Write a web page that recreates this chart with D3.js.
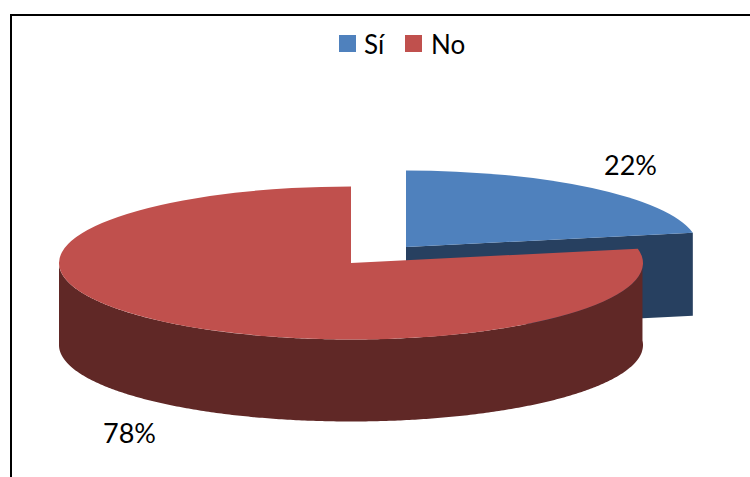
<!DOCTYPE html>
<html><head><meta charset="utf-8"><script src="https://cdnjs.cloudflare.com/ajax/libs/d3/7.8.5/d3.min.js"></script>
<style>html,body{margin:0;padding:0;background:#fff}svg{display:block}text{font-family:Lato,sans-serif;fill:#000}</style></head>
<body><svg width="750" height="477"></svg>
<script>
const categories = ["Sí", "No"];
const values = [22, 78];
const percentLabels = ["22%", "78%"];
const topColors = ["#4F81BD", "#C0504D"];
const wallColors = ["#274060", "#602826"];

const svg = d3.select("svg");
svg.append("path").attr("d","M11,477V15H750").attr("fill","none").attr("stroke","#000").attr("stroke-width",2);

const rx = 292, ry = 76.5, depth = 82;
const centers = [[406,247],[351,263]];
const slices = d3.pie().sort(null)(values);
const arc = d3.arc().innerRadius(0).outerRadius(rx);
const line = d3.line();
const pt = (i,a,dy=0)=>[centers[i][0]+rx*Math.sin(a), centers[i][1]-ry*Math.cos(a)+dy];

// blue cut wall
const s0 = slices[0];
const cutDepth = 83;
const cutWall = [[centers[0][0],centers[0][1]], pt(0,s0.endAngle), pt(0,s0.endAngle,cutDepth), [centers[0][0],centers[0][1]+cutDepth]];
svg.append("path").attr("d",line(cutWall)+"Z").attr("fill",wallColors[0]);
// blue top
svg.append("path").attr("transform",`translate(${centers[0]}) scale(1,${ry/rx})`).attr("d",arc(s0)).attr("fill",topColors[0]);

// red outer wall
const s1 = slices[1];
const angs = d3.range(Math.PI/2-0.06, 3*Math.PI/2, 0.01).concat(3*Math.PI/2);
const wall = angs.map(a=>pt(1,a)).concat(angs.slice().reverse().map(a=>pt(1,a,depth)));
svg.append("path").attr("d",line(wall)+"Z").attr("fill",wallColors[1]);
// red top
svg.append("path").attr("transform",`translate(${centers[1]}) scale(1,${ry/rx})`).attr("d",arc(s1)).attr("fill",topColors[1]);

// legend
const legendX = [339,405], textX=[364,431];
categories.forEach((c,i)=>{
  svg.append("rect").attr("x",legendX[i]).attr("y",35).attr("width",17).attr("height",17).attr("fill",topColors[i]);
  svg.append("text").attr("x",textX[i]).attr("y",54).attr("font-size",26).text(c);
});
// labels
const labelPos=[[604,175],[103,443]];
percentLabels.forEach((t,i)=>svg.append("text").attr("x",labelPos[i][0]).attr("y",labelPos[i][1]).attr("font-size",27).text(t));
</script></body></html>
